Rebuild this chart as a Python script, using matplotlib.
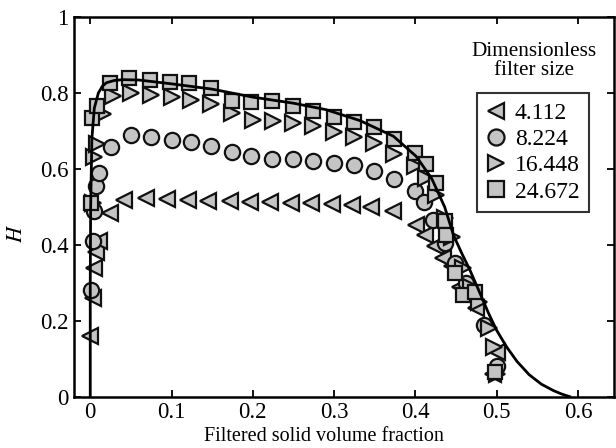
import matplotlib
matplotlib.use("Agg")
import matplotlib.pyplot as plt
import numpy as np

plt.rcParams['font.family'] = ['Liberation Serif', 'DejaVu Serif']
plt.rcParams['mathtext.fontset'] = 'stix'

# filter size 4.112 (left triangles)
x_4 = [0.000, 0.003, 0.005, 0.007, 0.011, 0.024, 0.042, 0.069, 0.094, 0.120, 0.145, 0.172,
       0.196, 0.221, 0.247, 0.272, 0.298, 0.322, 0.346, 0.372, 0.401, 0.412, 0.424, 0.434,
       0.445, 0.455, 0.467, 0.475, 0.500, 0.495]
y_4 = [0.16, 0.26, 0.34, 0.38, 0.41, 0.485, 0.519, 0.523, 0.521, 0.519, 0.515, 0.515,
       0.512, 0.512, 0.510, 0.511, 0.507, 0.505, 0.499, 0.488, 0.453, 0.427, 0.396, 0.365,
       0.343, 0.290, 0.260, 0.233, 0.119, 0.06]

# filter size 8.224 (circles)
x_8 = [0.001, 0.003, 0.005, 0.007, 0.011, 0.026, 0.050, 0.075, 0.100, 0.124, 0.149, 0.174,
       0.198, 0.223, 0.249, 0.274, 0.300, 0.325, 0.349, 0.374, 0.399, 0.411, 0.422, 0.436,
       0.449, 0.462, 0.485, 0.500]
y_8 = [0.28, 0.41, 0.49, 0.554, 0.589, 0.658, 0.690, 0.684, 0.677, 0.671, 0.660, 0.644,
       0.633, 0.626, 0.625, 0.620, 0.616, 0.609, 0.594, 0.574, 0.541, 0.512, 0.466, 0.405,
       0.352, 0.300, 0.189, 0.08]

# filter size 16.448 (right triangles)
x_16 = [0.003, 0.004, 0.008, 0.016, 0.028, 0.050, 0.075, 0.100, 0.124, 0.149, 0.174, 0.200,
        0.225, 0.250, 0.274, 0.300, 0.325, 0.349, 0.374, 0.399, 0.413, 0.425, 0.436, 0.445,
        0.458, 0.468, 0.478, 0.490, 0.497, 0.500]
y_16 = [0.51, 0.63, 0.665, 0.745, 0.792, 0.800, 0.794, 0.790, 0.781, 0.770, 0.748, 0.730,
        0.726, 0.721, 0.712, 0.697, 0.684, 0.667, 0.640, 0.607, 0.576, 0.532, 0.47, 0.42,
        0.34, 0.29, 0.25, 0.18, 0.13, 0.06]

# filter size 24.672 (squares)
x_24 = [0.001, 0.002, 0.008, 0.024, 0.048, 0.073, 0.098, 0.122, 0.149, 0.174, 0.198, 0.223,
        0.249, 0.274, 0.300, 0.325, 0.349, 0.374, 0.399, 0.413, 0.425, 0.436, 0.438, 0.449,
        0.459, 0.473, 0.498]
y_24 = [0.51, 0.735, 0.765, 0.827, 0.840, 0.834, 0.828, 0.825, 0.814, 0.778, 0.776, 0.780,
        0.765, 0.752, 0.737, 0.724, 0.710, 0.680, 0.642, 0.613, 0.563, 0.462, 0.427, 0.326,
        0.268, 0.277, 0.066]

# model curve
x_fit = [0.0, 0.0, 0.0005, 0.002, 0.005, 0.010, 0.015, 0.020, 0.030, 0.040, 0.060, 0.100,
         0.150, 0.200, 0.250, 0.290, 0.332, 0.373, 0.401, 0.420, 0.436, 0.447, 0.457, 0.467,
         0.478, 0.490, 0.500, 0.512, 0.525, 0.540, 0.555, 0.570, 0.580, 0.590]
y_fit = [0.0, 0.30, 0.50, 0.68, 0.76, 0.800, 0.818, 0.827, 0.833, 0.835, 0.834, 0.824,
         0.810, 0.789, 0.773, 0.756, 0.727, 0.686, 0.633, 0.575, 0.500, 0.425, 0.378, 0.334,
         0.280, 0.220, 0.175, 0.132, 0.093, 0.058, 0.033, 0.016, 0.007, 0.0]

labels = ['4.112', '8.224', '16.448', '24.672']
xticks = [0, 0.1, 0.2, 0.3, 0.4, 0.5, 0.6]
xticklabels = ['0', '0.1', '0.2', '0.3', '0.4', '0.5', '0.6']
yticks = [0, 0.2, 0.4, 0.6, 0.8, 1]
yticklabels = ['0', '0.2', '0.4', '0.6', '0.8', '1']

fig = plt.figure(figsize=(6.16, 4.48), dpi=100)
ax = fig.add_axes([74/616, 1 - 396.7/448, (614 - 74)/616, (396.7 - 17)/448])

face = '#c4c4c4'
ms = 11
mew = 1.6
series = [(x_4, y_4, '<'), (x_8, y_8, 'o'), (x_16, y_16, '>'), (x_24, y_24, 's')]
handles = []
for (xs, ys, m), lab in zip(series, labels):
    h, = ax.plot(xs, ys, linestyle='none', marker=m, markersize=ms if m != 's' else ms - 0.5,
                 markerfacecolor=face, markeredgecolor='#111111', markeredgewidth=mew, label=lab)
    handles.append(h)

ax.plot(x_fit, y_fit, color='black', linewidth=2.0, zorder=5)

ax.set_xlim(-0.02, 0.6444)
ax.set_ylim(0, 1)
ax.set_xticks(xticks)
ax.set_xticklabels(xticklabels)
ax.set_yticks(yticks)
ax.set_yticklabels(yticklabels)
ax.tick_params(direction='in', length=5, width=1.3, top=True, right=True,
               labelsize=16.5, pad=4)
for s in ax.spines.values():
    s.set_linewidth(1.8)

ax.set_xlabel('Filtered solid volume fraction', fontsize=14.5)
ax.xaxis.set_label_coords(0.462, -0.08)
ax.set_ylabel('$H$', fontsize=16)
ax.yaxis.set_label_coords(-0.087, 0.43)

leg = ax.legend(handles=handles, loc='upper left', bbox_to_anchor=((477 - 74) / 540, 1 - (93 - 17) / 379.7),
                fontsize=17, frameon=True, fancybox=False, edgecolor='black',
                handlelength=0.8, handletextpad=0.4, borderpad=0.4, labelspacing=0.2,
                borderaxespad=0, markerscale=1.05)
leg.get_frame().set_linewidth(1.5)
ax.text(534, 448 - 61, 'Dimensionless\nfilter size', transform=None, fontsize=15.3,
        ha='center', va='center', linespacing=1.05)

fig.savefig('out.png', dpi=100)
